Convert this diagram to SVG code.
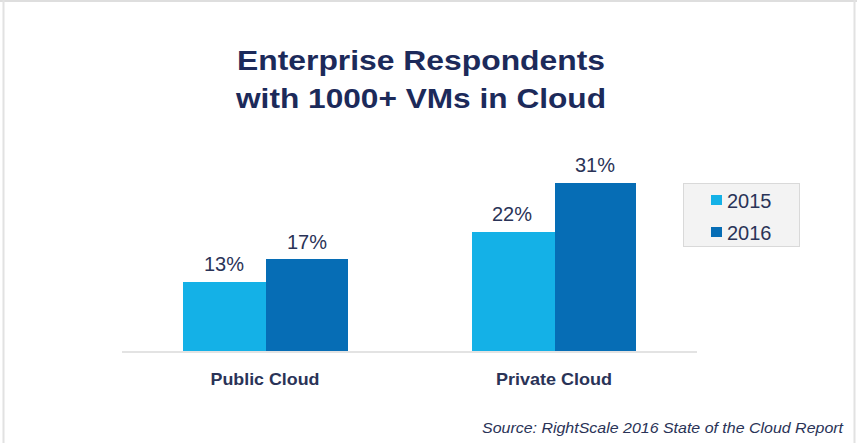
<svg xmlns="http://www.w3.org/2000/svg" width="857" height="443" viewBox="0 0 857 443">
<style>
.t{font-family:"Liberation Sans",Arial,sans-serif;}
.title{font-size:28.5px;font-weight:bold;fill:#1c2a5a;}
.val{font-size:20px;fill:#2a3357;}
.cat{font-size:17px;font-weight:bold;fill:#2a3357;}
.leg{font-size:20px;fill:#2a3357;}
.src{font-size:15px;font-style:italic;fill:#2a3357;}
.c15{fill:#14b1e7;}
.c16{fill:#066db5;}
</style>
<rect x="0" y="0" width="857" height="443" fill="#ffffff"/>
<g id="frame">
<line x1="0" y1="1" x2="857" y2="1" stroke="#dedede" stroke-width="2"/>
<line x1="3.5" y1="0" x2="3.5" y2="443" stroke="#e2e2e2" stroke-width="2"/>
<line x1="854.5" y1="0" x2="854.5" y2="443" stroke="#e2e2e2" stroke-width="2"/>
</g>
<g id="title">
<text class="t title" x="421" y="70" text-anchor="middle" textLength="368" lengthAdjust="spacingAndGlyphs">Enterprise Respondents</text>
<text class="t title" x="421" y="108" text-anchor="middle" textLength="370" lengthAdjust="spacingAndGlyphs">with 1000+ VMs in Cloud</text>
</g>
<g id="axis">
<line x1="122" y1="352" x2="697" y2="352" stroke="#e3e3e3" stroke-width="2"/>
</g>
<g id="public-cloud">
<rect class="c15" x="183" y="282" width="83" height="69"/>
<rect class="c16" x="266" y="259" width="82" height="92"/>
<text class="t val" x="224" y="271" text-anchor="middle">13%</text>
<text class="t val" x="307" y="249" text-anchor="middle">17%</text>
<text class="t cat" x="265" y="385" text-anchor="middle" textLength="109" lengthAdjust="spacingAndGlyphs">Public Cloud</text>
</g>
<g id="private-cloud">
<rect class="c15" x="472" y="232" width="83" height="119"/>
<rect class="c16" x="555" y="183" width="81" height="168"/>
<text class="t val" x="512" y="221" text-anchor="middle">22%</text>
<text class="t val" x="595" y="172" text-anchor="middle">31%</text>
<text class="t cat" x="554" y="385" text-anchor="middle" textLength="116" lengthAdjust="spacingAndGlyphs">Private Cloud</text>
</g>
<g id="legend">
<rect x="683.5" y="183.5" width="116" height="63" fill="#f3f3f3" stroke="#d9d9d9" stroke-width="1"/>
<rect class="c15" x="711" y="195" width="11" height="10"/>
<text class="t leg" x="727" y="208">2015</text>
<rect class="c16" x="711" y="227" width="11" height="10"/>
<text class="t leg" x="727" y="240">2016</text>
</g>
<g id="source">
<text class="t src" x="482" y="433" textLength="361" lengthAdjust="spacingAndGlyphs">Source: RightScale 2016 State of the Cloud Report</text>
</g>
</svg>
